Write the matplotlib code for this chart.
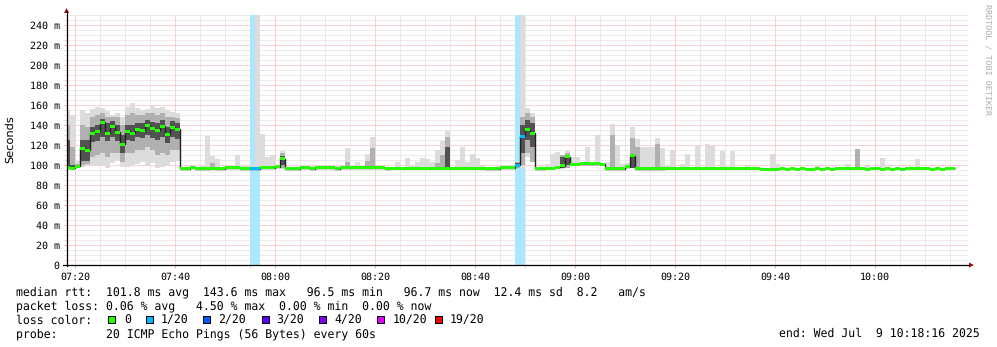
import numpy as np
import matplotlib
matplotlib.use("Agg")
import matplotlib.pyplot as plt
from matplotlib.patches import Rectangle, Polygon
from matplotlib.lines import Line2D
from matplotlib.ticker import FixedLocator, MultipleLocator
from matplotlib.colors import to_rgb

plt.rcParams["text.hinting"] = "none"

N = np.nan

# ---------------- data ----------------
# start of each 60 s sample, in minutes after 07:20 (first sample 07:18)
sample_start_min = np.arange(-2, 176)

median_ms = [
    97.5, 97, 99, 117, 115, 132, 134, 143, 132, 139,
    133, 121, 134, 132, 136, 135, 140, 137, 135, 139,
    131, 138, 136, 96.5, 96.5, 98, 96.5, 96.5, 96.5, 97,
    96.5, 96.5, 97.5, 97.5, 97.5, 96.5, 96.5, 96.5, 96.5, 97.5,
    97.5, 97.5, 98.5, 106.5, 96.5, 96.5, 96.5, 97.5, 97.5, 96.5,
    97.5, 97.5, 97.5, 97.5, 96.5, 97.5, 97.5, 97.5, 97.5, 97.5,
    97.5, 97.5, 97.5, 97.5, 96.5, 97, 97, 97, 97, 97,
    97, 97, 97, 97, 97, 97, 97, 97, 97, 97,
    97, 97, 97, 97, 96.5, 96.5, 96.5, 97.5, 97.5, 97.5,
    100, 129, 135.5, 132, 96.5, 96.5, 97, 97, 98, 99.5,
    108.5, 101, 101, 101.5, 101.5, 101.5, 101.5, 101, 96.5, 96.5,
    96.5, 96.5, 98.5, 109.5, 96.5, 96.5, 96.5, 96.5, 96.5, 96.5,
    97, 97, 97, 97, 97, 97, 97, 97, 97, 97,
    97, 97, 97, 97, 97, 97, 97, 97, 97, 96,
    96, 96, 96, 97, 96, 97, 96, 97, 96, 96,
    97, 96, 97, 96, 97, 97, 97, 97, 97, 97,
    96, 97, 97, 96, 97, 96, 97, 96, 97, 97,
    97, 97, 97, 96, 97, 96, 97, 97,
]

loss_count = [
    0, 0, 0, 0, 0, 0, 0, 0, 0, 0,
    0, 0, 0, 0, 0, 0, 0, 0, 0, 0,
    0, 0, 0, 0, 0, 0, 0, 0, 0, 0,
    0, 0, 0, 0, 0, 0, 0, 1, 1, 0,
    0, 0, 0, 0, 0, 0, 0, 0, 0, 0,
    0, 0, 0, 0, 0, 0, 0, 0, 0, 0,
    0, 0, 0, 0, 0, 0, 0, 0, 0, 0,
    0, 0, 0, 0, 0, 0, 0, 0, 0, 0,
    0, 0, 0, 0, 0, 0, 0, 0, 0, 0,
    1, 1, 0, 0, 0, 0, 0, 0, 0, 0,
    0, 0, 0, 0, 0, 0, 0, 0, 0, 0,
    0, 0, 0, 0, 0, 0, 0, 0, 0, 0,
    0, 0, 0, 0, 0, 0, 0, 0, 0, 0,
    0, 0, 0, 0, 0, 0, 0, 0, 0, 0,
    0, 0, 0, 0, 0, 0, 0, 0, 0, 0,
    0, 0, 0, 0, 0, 0, 0, 0, 0, 0,
    0, 0, 0, 0, 0, 0, 0, 0, 0, 0,
    0, 0, 0, 0, 0, 0, 0, 0,
]

smoke_max = [
    155, 150, 104, 155, 152, 156, 158, 157, 154, 150,
    152, 148, 158, 162, 157, 155, 156, 160, 157, 158,
    155, 153, 152, 97.5, 97.5, 99, 97.5, 100, 129, 109,
    106, 97.5, 98, 98, 110, 100, 100, 100, 300, 131,
    108, 110, 99.5, 114, 97.5, 98, 97.5, 98.5, 98.5, 97.5,
    98.5, 98.5, 98.5, 98.5, 97.5, 98.5, 117, 100, 103, 98.5,
    111, 128, 98.5, 98.5, 97.5, 98, 103, 98, 107, 100,
    103, 107, 106, 103, 115, 124, 134, 98, 105, 118,
    103, 111, 107, 100, 97.5, 97.5, 97.5, 100, 100, 99,
    103, 300, 157, 152, 97.5, 98, 101.5, 111.5, 113, 110,
    114, 108, 108, 103, 118, 102, 130, 102, 103, 141,
    120, 101.5, 102, 138, 126.5, 118, 118, 118, 127, 117,
    100, 115, 98, 101, 111, 98, 120, 98, 121, 119,
    98, 114.5, 98, 114.5, 98, 98, 100, 98, 98, 97,
    97, 111, 101, 98, 97, 98, 97, 98, 97, 97,
    99.5, 97, 98, 97, 98, 98, 101, 98, 116, 98,
    100, 98, 98, 107, 98, 97, 98, 97, 98, 98,
    106, 98, 98, 97, 98, 97, 98, 98,
]

smoke_min = [
    97, 96.5, 97, 98, 100, 100, 100, 100, 97, 102,
    104, 98, 98, 100, 101, 103, 100, 102, 97, 98,
    100, 103, 104, 95.5, 95.5, 97, 95.5, 95.5, 95.5, 96,
    95.5, 95.5, 96.5, 96.5, 96.5, 95.5, 95.5, 95.5, 95.5, 96.5,
    96.5, 96.5, 97.5, 96, 95.5, 95.5, 95.5, 96.5, 96.5, 95.5,
    96.5, 96.5, 96.5, 96.5, 95.5, 96.5, 96.5, 96.5, 96.5, 96.5,
    96.5, 96.5, 96.5, 96.5, 95.5, 96, 96, 96, 96, 96,
    96, 96, 96, 96, 96, 96, 96, 96, 96, 96,
    96, 96, 96, 96, 95.5, 95.5, 95.5, 96.5, 96.5, 96.5,
    97, 97, 108, 103, 95.5, 95.5, 96, 96, 97, 96,
    97, 99, 99, 100, 100, 100, 100, 99, 95.5, 95.5,
    95.5, 95.5, 97, 97, 95.5, 95.5, 95.5, 95.5, 95.5, 95.5,
    96, 96, 96, 96, 96, 96, 96, 96, 96, 96,
    96, 96, 96, 96, 96, 96, 96, 96, 96, 95,
    95, 95, 95, 96, 95, 96, 95, 96, 95, 95,
    96, 95, 96, 95, 96, 96, 96, 96, 96, 96,
    95, 96, 96, 95, 96, 95, 96, 95, 96, 96,
    96, 96, 96, 95, 96, 95, 96, 96,
]

# middle smoke layer (roughly 3rd..18th ping of 20)
mid_lo = [
    98, 97, 98, 100, 101, 108, 110, 112, 108, 112,
    112, 103, 112, 112, 115, 115, 118, 115, 110, 112,
    110, 115, 115, N, N, N, N, N, N, 97,
    N, N, N, N, N, N, N, N, N, N,
    N, N, N, 97, N, N, N, N, N, N,
    N, N, N, N, N, N, 96.5, N, N, N,
    97, 97, N, N, N, N, N, N, N, N,
    N, N, N, N, 97, 97, 97, N, N, N,
    N, N, N, N, N, N, N, N, N, N,
    97, 100, 112, 103, N, N, N, N, N, 97,
    97, N, N, N, N, N, N, N, N, 97,
    N, N, N, 97, 97, N, N, N, 97, N,
    N, N, N, N, N, N, N, N, N, N,
    N, N, N, N, N, N, N, N, N, N,
    N, N, N, N, N, N, N, N, N, N,
    N, N, N, N, N, N, N, N, 97, N,
    N, N, N, N, N, N, N, N, N, N,
    N, N, N, N, N, N, N, N,
]
mid_hi = [
    140, 118, 101, 140, 138, 148, 150, 152, 148, 148,
    148, 140, 150, 152, 150, 150, 152, 152, 150, 152,
    148, 148, 147, N, N, N, N, N, N, 102,
    N, N, N, N, N, N, N, N, N, N,
    N, N, N, 112, N, N, N, N, N, N,
    N, N, N, N, N, N, 103, N, N, N,
    104, 117, N, N, N, N, N, N, N, N,
    N, N, N, N, 102, 110, 128, N, N, N,
    N, N, N, N, N, N, N, N, N, N,
    103, 148, 152, 148, N, N, N, N, N, 110,
    112, N, N, N, N, N, N, N, N, 130,
    N, N, N, 127, 118, N, N, N, 121, N,
    N, N, N, N, N, N, N, N, N, N,
    N, N, N, N, N, N, N, N, N, N,
    N, N, N, N, N, N, N, N, N, N,
    N, N, N, N, N, N, N, N, 116, N,
    N, N, N, N, N, N, N, N, N, N,
    N, N, N, N, N, N, N, N,
]

# dark core of the smoke (roughly 8th..13th ping of 20)
core_lo = [
    99, 97, N, 104, 104, 123, 124, 128, 124, 128,
    124, 112, 125, 124, 128, 127, 130, 127, 125, 128,
    122, 128, 126, N, N, N, N, N, N, N,
    N, N, N, N, N, N, N, N, N, N,
    N, N, N, 100, N, N, N, N, N, N,
    N, N, N, N, N, N, N, N, N, N,
    N, N, N, N, N, N, N, N, N, N,
    N, N, N, N, N, N, 97, N, N, N,
    N, N, N, N, N, N, N, N, N, N,
    98, 112, 125, 118, N, N, N, N, N, 97,
    100, N, N, N, N, N, N, N, N, N,
    N, N, N, 97, N, N, N, N, N, N,
    N, N, N, N, N, N, N, N, N, N,
    N, N, N, N, N, N, N, N, N, N,
    N, N, N, N, N, N, N, N, N, N,
    N, N, N, N, N, N, N, N, N, N,
    N, N, N, N, N, N, N, N, N, N,
    N, N, N, N, N, N, N, N,
]
core_hi = [
    125, 100, N, 125, 125, 138, 140, 146, 142, 144,
    140, 130, 140, 140, 142, 142, 145, 143, 142, 145,
    138, 144, 142, N, N, N, N, N, N, N,
    N, N, N, N, N, N, N, N, N, N,
    N, N, N, 109, N, N, N, N, N, N,
    N, N, N, N, N, N, N, N, N, N,
    N, N, N, N, N, N, N, N, N, N,
    N, N, N, N, N, N, 118, N, N, N,
    N, N, N, N, N, N, N, N, N, N,
    102, 140, 145, 142, N, N, N, N, N, 108,
    110, N, N, N, N, N, N, N, N, N,
    N, N, N, 110, N, N, N, N, N, N,
    N, N, N, N, N, N, N, N, N, N,
    N, N, N, N, N, N, N, N, N, N,
    N, N, N, N, N, N, N, N, N, N,
    N, N, N, N, N, N, N, N, N, N,
    N, N, N, N, N, N, N, N, N, N,
    N, N, N, N, N, N, N, N,
]

xtick_minutes = [0, 20, 40, 60, 80, 100, 120, 140, 160]
xtick_labels = ["07:20", "07:40", "08:00", "08:20", "08:40",
                "09:00", "09:20", "09:40", "10:00"]
ytick_values = [0, 20, 40, 60, 80, 100, 120, 140, 160, 180, 200, 220, 240]
ytick_labels = ["0", "20 m", "40 m", "60 m", "80 m", "100 m", "120 m",
                "140 m", "160 m", "180 m", "200 m", "220 m", "240 m"]

loss_levels = [0, 1, 2, 3, 4, 10, 19]
loss_labels = ["0", "1/20", "2/20", "3/20", "4/20", "10/20", "19/20"]
loss_colors = ["#26ff00", "#00b8ff", "#0059ff", "#5e00ff", "#7e00ff",
               "#dd00ff", "#ff0000"]

legend_rtt = "median rtt:  101.8 ms avg  143.6 ms max   96.5 ms min   96.7 ms now  12.4 ms sd  8.2   am/s"
legend_loss = "packet loss: 0.06 % avg   4.50 % max  0.00 % min  0.00 % now"
legend_color = "loss color:"
legend_probe = "probe:       20 ICMP Echo Pings (56 Bytes) every 60s"
legend_end = "end: Wed Jul  9 10:18:16 2025"
watermark = "RRDTOOL / TOBI OETIKER"

# ---------------- figure ----------------
W, H = 997, 347
fig = plt.figure(figsize=(W / 100, H / 100), dpi=100)
fig.patch.set_facecolor("white")


def fx(x):
    return x / W


def fy(y):
    return 1 - y / H


AX_L, AX_R, AX_T, AX_B = 66.5, 968.0, 15.0, 265.0
ax = fig.add_axes([fx(AX_L), fy(AX_B), (AX_R - AX_L) / W, (AX_B - AX_T) / H])
ax.set_facecolor("white")
ax.set_xlim(-1.7, 178.6)
ax.set_ylim(0, 250)

x = np.asarray(sample_start_min, dtype=float)
med = np.asarray(median_ms, dtype=float)
loss = np.asarray(loss_count)

# grid
ax.xaxis.set_major_locator(FixedLocator(xtick_minutes))
ax.xaxis.set_minor_locator(MultipleLocator(5))
ax.yaxis.set_major_locator(FixedLocator(ytick_values))
ax.yaxis.set_minor_locator(MultipleLocator(5))
ax.set_xticklabels(xtick_labels)
ax.set_yticklabels(ytick_labels)
dot = (0, (1, 1))
ax.grid(which="minor", color="#d9d9d9", linestyle=dot, linewidth=0.72, zorder=0)
ax.grid(which="major", color="#eca8a8", linestyle=dot, linewidth=0.72, zorder=0)
ax.set_axisbelow(True)

mono = "DejaVu Sans Mono"
ax.tick_params(which="both", direction="out", length=2, width=0.72)
ax.tick_params(which="major", colors="#eca8a8", labelcolor="black")
ax.tick_params(which="minor", colors="#d9d9d9")
ax.tick_params(axis="x", which="major", pad=3.0, labelsize=7.2)
ax.tick_params(axis="y", which="major", pad=2.9, labelsize=7.2)
for lab in ax.get_xticklabels() + ax.get_yticklabels():
    lab.set_fontfamily(mono)
for s in ax.spines.values():
    s.set_visible(False)


def level_color(c):
    idx = 0
    for i, lv in enumerate(loss_levels):
        if c >= lv:
            idx = i
    return loss_colors[idx]


# loss background
for xi, c in zip(x, loss):
    if c > 0:
        r, g, b = to_rgb(level_color(c))
        a = 0.33
        bg = (1 - a + a * r, 1 - a + a * g, 1 - a + a * b)
        ax.axvspan(xi, xi + 1, color=bg, lw=0, zorder=1)

# smoke layers
BW = 1.05  # slight overlap so neighbouring samples join without seams
layers = [
    (smoke_min, smoke_max, "#dcdcdc"),
    (mid_lo, mid_hi, "#b0b0b0"),
    (core_lo, core_hi, "#525252"),
]
for lo, hi, col in layers:
    lo = np.asarray(lo, dtype=float)
    hi = np.asarray(hi, dtype=float)
    m = ~np.isnan(lo) & ~np.isnan(hi)
    ax.bar(x[m], hi[m] - lo[m], bottom=lo[m], width=BW, align="edge",
           color=col, linewidth=0, zorder=2)

# median line and loss-coloured median boxes
edges = np.append(x, x[-1] + 1)
ax.stairs(med, edges, baseline=None, color="#202020", linewidth=1.0, zorder=3)
sw = 1.5
box_cols = [level_color(c) for c in loss]
ax.bar(x, 2 * sw, bottom=med - sw, width=BW, align="edge",
       color=box_cols, linewidth=0, zorder=4)

# axes lines and arrows
fig.add_artist(Line2D([fx(AX_L), fx(AX_L)], [fy(AX_B + 1), fy(11)], color="black", lw=0.9))
fig.add_artist(Line2D([fx(63), fx(969)], [fy(AX_B), fy(AX_B)], color="black", lw=0.9))
fig.add_artist(Polygon([[fx(AX_L - 2.5), fy(13)], [fx(AX_L + 2.5), fy(13)], [fx(AX_L), fy(8)]],
                       closed=True, color="#9b1010", lw=0, transform=fig.transFigure))
fig.add_artist(Polygon([[fx(969), fy(AX_B - 2.5)], [fx(969), fy(AX_B + 2.5)], [fx(974), fy(AX_B)]],
                       closed=True, color="#9b1010", lw=0, transform=fig.transFigure))

# y label and watermark
fig.text(fx(10), fy(139), "Seconds", rotation=90, ha="center", va="center",
         fontsize=8.2, family="DejaVu Sans")
fig.text(fx(987), fy(60), watermark, rotation=270, ha="center", va="center",
         fontsize=6.0, family=mono, color="#ababab")

# legend
LS = 8.32
fig.text(fx(16), fy(295.7), legend_rtt, fontsize=LS, family=mono, va="baseline")
fig.text(fx(16), fy(309.6), legend_loss, fontsize=LS, family=mono, va="baseline")
fig.text(fx(16), fy(323.5), legend_color, fontsize=LS, family=mono, va="baseline")
box_x = [108.3, 146, 203.3, 261.7, 319.3, 377.3, 435]
lab_x = [124, 160.3, 218.3, 276, 334, 392.3, 450]
for bx, lx, lab, col in zip(box_x, lab_x, loss_labels, loss_colors):
    fig.add_artist(Rectangle((fx(bx), fy(323)), 7 / W, 7 / H, facecolor=col,
                             edgecolor="black", lw=0.72, transform=fig.transFigure))
    fig.text(fx(lx), fy(323.5), lab, fontsize=LS, family=mono, va="baseline")
fig.text(fx(16), fy(337.3), legend_probe, fontsize=LS, family=mono, va="baseline")
fig.text(fx(980), fy(337.3), legend_end, fontsize=LS, family=mono, va="baseline", ha="right")

fig.savefig("out.png", dpi=100)
